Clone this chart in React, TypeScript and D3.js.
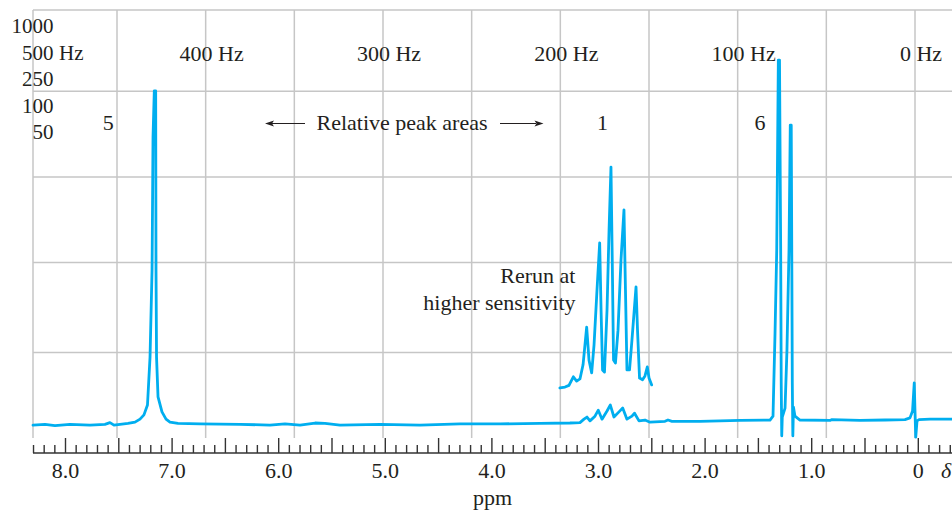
import React from "react";
import * as d3 from "d3";

// ---- Data ----
const mainPpm = [8.305, 8.192, 8.099, 7.958, 7.77, 7.63, 7.583, 7.545, 7.489, 7.414, 7.348, 7.301, 7.264, 7.231, 7.207, 7.188, 7.179, 7.167, 7.154, 7.151, 7.146, 7.132, 7.095, 7.057, 7.02, 6.945, 6.738, 6.363, 6.082, 5.941, 5.8, 5.659, 5.566, 5.425, 5.05, 4.674, 4.299, 3.924, 3.549, 3.268, 3.174, 3.136, 3.108, 3.08, 3.033, 3.002, 2.967, 2.92, 2.889, 2.855, 2.808, 2.773, 2.733, 2.686, 2.662, 2.62, 2.564, 2.517, 2.376, 2.348, 2.311, 2.048, 1.672, 1.391, 1.363, 1.344, 1.328, 1.313, 1.302, 1.291, 1.286, 1.281, 1.276, 1.25, 1.232, 1.213, 1.201, 1.192, 1.187, 1.182, 1.177, 1.171, 1.157, 1.11, 0.828, 0.81, 0.547, 0.312, 0.125, 0.078, 0.054, 0.038, 0.031, 0.024, 0.012, -0.007, -0.11, -0.316];
const mainIntensity = [3.0, 3.2, 2.9, 3.2, 3.0, 3.2, 3.6, 3.0, 3.2, 3.4, 3.7, 4.4, 5.4, 7.7, 18.9, 39.3, 70.3, 81.1, 81.1, 39.3, 18.9, 9.6, 6.1, 4.4, 3.7, 3.4, 3.3, 3.2, 3.0, 3.3, 3.0, 3.5, 3.4, 3.0, 3.2, 3.0, 3.3, 3.3, 3.4, 3.5, 3.6, 4.4, 4.9, 4.0, 5.1, 6.5, 4.4, 6.3, 7.7, 4.9, 6.1, 7.0, 4.4, 5.1, 5.8, 4.0, 4.2, 3.7, 3.9, 4.2, 3.9, 3.9, 4.1, 4.2, 5.1, 24.5, 43.9, 88.3, 88.3, 43.9, 12.9, 0.5, 4.9, 7.0, 20.6, 43.9, 73.1, 73.1, 43.9, 12.9, 0.5, 7.2, 5.1, 4.2, 4.1, 4.3, 4.1, 4.2, 4.3, 4.7, 6.3, 12.9, 6.3, 0.2, 4.0, 4.3, 4.4, 4.4];

const rerunPpm = [3.362, 3.314, 3.277, 3.236, 3.205, 3.174, 3.145, 3.111, 3.089, 3.064, 3.042, 3.014, 2.989, 2.976, 2.962, 2.944, 2.92, 2.901, 2.883, 2.871, 2.859, 2.841, 2.817, 2.789, 2.761, 2.747, 2.733, 2.709, 2.686, 2.648, 2.634, 2.615, 2.587, 2.564, 2.542, 2.526, 2.501];
const rerunIntensity = [11.7, 11.9, 12.3, 14.3, 13.3, 13.8, 17.1, 25.9, 18.2, 15.2, 21.7, 34.6, 45.6, 29.9, 15.9, 15.4, 29.9, 48.6, 63.3, 41.6, 18.2, 17.5, 25.2, 41.6, 53.3, 34.6, 15.9, 15.9, 22.9, 35.3, 25.2, 14.0, 13.6, 14.5, 16.6, 14.0, 12.4];

const ppmTickValues = [8, 7, 6, 5, 4, 3, 2, 1, 0];
const ppmTickLabels = ["8.0", "7.0", "6.0", "5.0", "4.0", "3.0", "2.0", "1.0", "0"];
const hzGridValues = [0, 50, 100, 150, 200, 250, 300, 350, 400, 450];
const hzLabelValues = [400, 300, 200, 100, 0];
const gridIntensities = [20, 41, 61, 81, 100];
const sweepLabels = ["1000", "500", "250", "100", "50"];
const areaLabels = ["5", "1", "6"];
const areaPpm = [7.6, 2.962, 1.485];

// ---- Layout ----
const W = 952;
const H = 513;
const LEFT = 33;
const TOP = 10;
const GRID_BOTTOM = 438;
const AXIS_Y = 453;
const BLUE = "#00AEEF";
const INK = "#231F20";
const GRID = "#C6C6C6";
const FONT = "'Liberation Serif', 'Times New Roman', serif";

export default function App() {
  const x = d3.scaleLinear().domain([0, 8]).range([918.3, 65.5]);
  const hz = d3.scaleLinear().domain([0, 450]).range([915, 117]);
  const y = d3.scaleLinear().domain([0, 100]).range([GRID_BOTTOM, TOP]);

  const line = d3
    .line<number>()
    .x((d) => x(d))
    .y((_, i) => 0);

  const mainPath = d3
    .line<[number, number]>()
    .x((d) => x(d[0]))
    .y((d) => y(d[1]))(mainPpm.map((p, i) => [p, mainIntensity[i]]));
  const rerunPath = d3
    .line<[number, number]>()
    .x((d) => x(d[0]))
    .y((d) => y(d[1]))(rerunPpm.map((p, i) => [p, rerunIntensity[i]]));

  const [dMax, dMin] = x.invert(LEFT) > x.invert(W) ? [x.invert(LEFT), x.invert(W)] : [x.invert(W), x.invert(LEFT)];
  const tickIdx = d3.range(Math.ceil(dMin * 10 - 1e-6), Math.floor(dMax * 10 + 1e-6) + 1);

  const labelY = 130;
  const arrowY = 123.5;

  return (
    <svg
      width={W}
      height={H}
      style={{ position: "absolute", left: 0, top: 0, background: "#fff" }}
      fontFamily={FONT}
    >
      <rect x={0} y={0} width={W} height={H} fill="#fff" />
      {/* grid */}
      <g stroke={GRID} strokeWidth={1.5}>
        <line x1={LEFT} x2={LEFT} y1={TOP} y2={GRID_BOTTOM} />
        {hzGridValues.map((v) => (
          <line key={"v" + v} x1={hz(v)} x2={hz(v)} y1={TOP} y2={GRID_BOTTOM} />
        ))}
        {gridIntensities.map((v) => (
          <line key={"h" + v} x1={LEFT} x2={W} y1={y(v)} y2={y(v)} />
        ))}
      </g>

      {/* sweep-width column */}
      <g fill={INK} fontSize={21}>
        {sweepLabels.map((s, i) => (
          <text key={s} x={53.5} y={33 + i * 26.5} textAnchor="end">
            {s}
          </text>
        ))}
        <text x={59} y={59.5}>Hz</text>
      </g>

      {/* Hz labels */}
      <g fill={INK} fontSize={22}>
        {hzLabelValues.map((v) => (
          <text key={v} x={hz(v) + 6} y={60.5} textAnchor="middle">
            {v} Hz
          </text>
        ))}
      </g>

      {/* peak area labels */}
      <g fill={INK} fontSize={22}>
        {areaLabels.map((s, i) => (
          <text key={i} x={x(areaPpm[i])} y={labelY} textAnchor="middle">
            {s}
          </text>
        ))}
        <text x={316.5} y={labelY}>Relative peak areas</text>
        <line x1={272} x2={305} y1={arrowY} y2={arrowY} stroke={INK} strokeWidth={1.2} />
        <path d={`M265,${arrowY} L274,${arrowY - 3} L272,${arrowY} L274,${arrowY + 3} Z`} fill={INK} />
        <line x1={500} x2={536} y1={arrowY} y2={arrowY} stroke={INK} strokeWidth={1.2} />
        <path d={`M543.5,${arrowY} L534.5,${arrowY - 3} L536.5,${arrowY} L534.5,${arrowY + 3} Z`} fill={INK} />
        <text x={575.5} y={283} textAnchor="end">Rerun at</text>
        <text x={575.5} y={310} textAnchor="end">higher sensitivity</text>
      </g>

      {/* spectrum */}
      <path d={mainPath ?? ""} fill="none" stroke={BLUE} strokeWidth={2.8} strokeLinejoin="round" strokeLinecap="round" />
      <path d={rerunPath ?? ""} fill="none" stroke={BLUE} strokeWidth={2.8} strokeLinejoin="round" strokeLinecap="round" />

      {/* ppm axis */}
      <g stroke="#333" strokeWidth={1.4}>
        <line x1={LEFT} x2={W} y1={AXIS_Y} y2={AXIS_Y} />
        {tickIdx.map((k) => {
          const major = k % 5 === 0;
          const xx = x(k / 10);
          return <line key={k} x1={xx} x2={xx} y1={major ? GRID_BOTTOM : AXIS_Y - 8} y2={AXIS_Y} />;
        })}
      </g>
      <g fill={INK} fontSize={22}>
        {ppmTickValues.map((v, i) => (
          <text key={v} x={x(v)} y={478} textAnchor="middle">
            {ppmTickLabels[i]}
          </text>
        ))}
        <text x={946} y={478} textAnchor="middle" fontStyle="italic">
          δ
        </text>
        <text x={(LEFT + W) / 2} y={505} textAnchor="middle">
          ppm
        </text>
      </g>
    </svg>
  );
}
